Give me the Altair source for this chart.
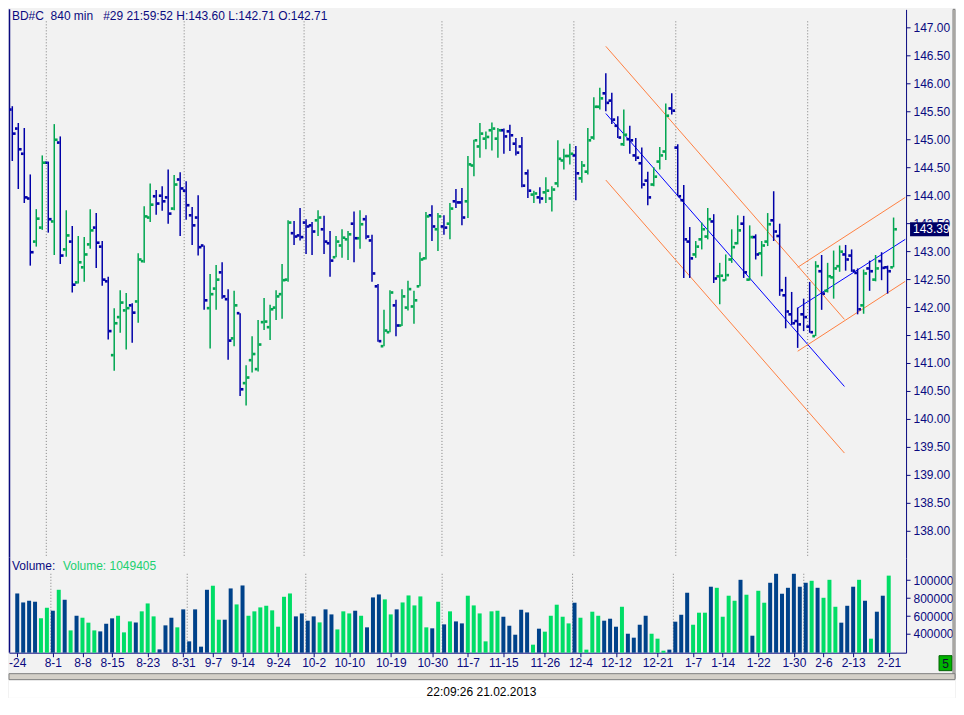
import altair as alt
import pandas as pd

# ---------------- data ----------------
bar_open = [145.53, 145.19, 144.74, 143.94, 143.17, 143.42, 144.58, 143.53, 144.94, 143.03,
            143.17, 142.44, 142.71, 143.12, 143.42, 143.08, 142.46, 141.14, 141.82, 141.94,
            142.03, 142.10, 142.82, 143.60, 143.98, 143.99, 143.96, 143.76, 144.28, 144.08,
            143.64, 143.60, 143.10, 141.98, 142.33, 142.62, 142.14, 141.44, 141.89, 140.64,
            141.05, 140.89, 141.73, 141.64, 141.99, 142.23, 142.49, 143.32, 143.28, 143.51,
            143.46, 143.55, 143.39, 143.14, 142.89, 143.10, 143.21, 143.49, 143.23, 143.57,
            143.19, 142.37, 141.30, 141.55, 142.03, 141.67, 141.99, 142.01, 142.37, 142.87,
            143.64, 143.39, 143.44, 143.49, 143.89, 143.87, 143.89, 144.53, 144.87, 145.01,
            145.16, 145.01, 145.16, 145.14, 144.92, 144.87, 144.39, 144.01, 143.96, 144.05,
            143.94, 144.21, 144.62, 144.70, 144.71, 144.30, 144.42, 145.03, 145.58, 145.82,
            145.69, 145.24, 144.91, 145.00, 144.71, 144.57, 144.26, 144.19, 144.60, 144.78,
            145.55, 144.85, 143.91, 143.17, 142.94, 143.21, 143.26, 143.53, 142.55, 142.48,
            142.85, 143.14, 143.49, 142.49, 143.25, 142.96, 143.17, 143.55, 143.27, 142.21,
            141.87, 141.75, 141.87, 141.65, 141.48, 142.64, 142.29, 142.53, 142.73, 142.94,
            142.92, 142.61, 142.03, 142.69, 142.49, 142.82, 142.71, 142.71]
bar_high = [145.59, 145.29, 145.20, 144.37, 143.75, 144.71, 144.60, 145.27, 145.05, 143.73,
            143.45, 143.27, 143.25, 143.75, 143.68, 143.18, 142.54, 141.98, 142.30, 142.25,
            142.07, 142.96, 143.80, 144.21, 144.09, 144.16, 144.46, 144.36, 144.41, 144.25,
            143.79, 144.00, 143.10, 142.59, 142.75, 142.80, 142.32, 142.29, 141.89, 140.96,
            141.48, 141.77, 142.16, 142.04, 142.30, 142.77, 143.55, 143.54, 143.77, 143.57,
            143.52, 143.73, 143.63, 143.36, 143.27, 143.39, 143.36, 143.71, 143.73, 143.64,
            143.29, 142.41, 141.95, 142.30, 142.13, 142.32, 142.47, 142.29, 142.98, 143.70,
            143.82, 143.68, 143.64, 143.86, 144.11, 144.13, 144.70, 144.99, 145.29, 145.14,
            145.30, 145.20, 145.19, 145.26, 145.02, 145.04, 144.46, 144.08, 144.14, 144.32,
            144.16, 144.98, 144.83, 144.92, 144.88, 144.61, 145.20, 145.75, 145.92, 146.18,
            145.83, 145.41, 145.53, 145.24, 145.02, 144.85, 144.42, 144.50, 144.86, 145.64,
            145.82, 144.91, 144.18, 143.43, 143.18, 143.51, 143.77, 143.66, 142.79, 142.94,
            143.39, 143.64, 143.63, 143.46, 143.30, 143.18, 143.68, 144.07, 143.49, 142.54,
            142.27, 141.99, 142.15, 142.45, 142.82, 142.93, 142.79, 143.01, 143.10, 143.11,
            143.03, 142.69, 142.67, 142.83, 142.93, 142.98, 142.74, 143.60]
bar_low = [144.61, 144.11, 143.86, 142.74, 143.08, 143.38, 143.33, 142.93, 142.77, 142.90,
           142.26, 142.42, 142.45, 143.04, 142.70, 142.38, 141.42, 140.86, 141.54, 141.24,
           141.36, 141.72, 142.79, 143.52, 143.65, 143.72, 143.49, 143.73, 143.27, 143.56,
           143.11, 142.92, 141.95, 141.26, 141.95, 142.15, 141.06, 141.30, 140.41, 140.24,
           140.83, 140.85, 141.59, 141.41, 141.77, 141.79, 142.45, 143.11, 143.19, 142.95,
           142.93, 143.27, 142.95, 142.54, 142.89, 142.88, 142.84, 142.80, 143.04, 143.21,
           142.45, 141.38, 141.30, 141.55, 141.48, 141.66, 141.94, 141.70, 142.37, 142.85,
           143.18, 143.00, 143.29, 143.21, 143.77, 143.46, 143.59, 144.34, 144.67, 144.82,
           144.80, 144.67, 144.74, 144.79, 144.71, 144.14, 143.95, 143.86, 143.85, 143.86,
           143.71, 144.14, 144.46, 144.55, 143.91, 144.22, 144.37, 144.99, 145.53, 145.50,
           145.27, 145.02, 144.88, 144.74, 144.61, 144.12, 143.82, 144.16, 144.46, 144.63,
           145.44, 143.98, 142.52, 142.52, 142.88, 143.03, 143.21, 142.43, 142.05, 142.47,
           142.79, 143.12, 142.52, 142.47, 142.85, 142.55, 143.09, 143.18, 142.20, 141.62,
           141.68, 141.27, 141.57, 141.54, 141.48, 141.95, 142.26, 142.15, 142.63, 142.65,
           142.63, 141.87, 141.88, 142.29, 142.46, 142.48, 142.24, 142.71]
bar_close = [145.10, 144.82, 143.96, 142.98, 143.58, 144.58, 143.57, 144.99, 142.92, 143.28,
             142.40, 142.80, 142.94, 143.37, 143.15, 142.49, 141.57, 141.71, 142.08, 141.98,
             141.90, 142.85, 143.62, 143.83, 143.85, 143.89, 143.67, 144.19, 144.12, 143.82,
             143.46, 143.07, 142.12, 142.23, 142.49, 142.19, 141.40, 142.03, 140.53, 140.74,
             141.16, 141.33, 141.74, 141.96, 142.19, 142.48, 143.51, 143.26, 143.25, 143.44,
             143.35, 143.60, 143.17, 142.83, 143.17, 143.24, 143.30, 143.23, 143.48, 143.26,
             142.60, 141.39, 141.58, 142.26, 141.67, 142.19, 142.32, 142.12, 142.85, 143.62,
             143.44, 143.62, 143.42, 143.76, 143.87, 143.60, 144.55, 144.98, 145.10, 145.04,
             145.19, 145.16, 145.05, 145.07, 144.76, 144.17, 144.08, 144.03, 143.94, 144.08,
             144.10, 144.65, 144.70, 144.74, 144.39, 144.53, 144.98, 145.58, 145.73, 145.65,
             145.35, 145.03, 145.08, 144.98, 144.67, 144.19, 143.96, 144.33, 144.71, 145.42,
             145.51, 143.98, 143.21, 142.87, 143.08, 143.39, 143.57, 142.51, 142.56, 142.57,
             143.07, 143.37, 142.62, 143.25, 142.94, 143.10, 143.48, 143.35, 142.30, 141.92,
             141.71, 141.69, 141.82, 141.55, 142.73, 142.24, 142.55, 142.69, 142.99, 142.85,
             142.65, 141.96, 142.60, 142.64, 142.69, 142.70, 142.64, 143.39]
volume = [851000, 751000, 770000, 759000, 574000, 692000, 659000, 892000, 781000, 440000,
          603000, 581000, 526000, 440000, 429000, 514000, 574000, 603000, 418000, 540000,
          529000, 652000, 740000, 596000, 229000, 496000, 581000, 474000, 674000, 318000,
          674000, 259000, 892000, 937000, 559000, 559000, 907000, 729000, 940000, 603000,
          652000, 696000, 714000, 663000, 481000, 814000, 851000, 596000, 629000, 548000,
          596000, 529000, 674000, 618000, 451000, 652000, 629000, 659000, 603000, 474000,
          807000, 840000, 785000, 618000, 674000, 751000, 829000, 718000, 818000, 474000,
          463000, 759000, 507000, 652000, 540000, 518000, 826000, 718000, 629000, 318000,
          652000, 659000, 592000, 492000, 392000, 670000, 640000, 281000, 459000, 426000,
          603000, 726000, 592000, 518000, 748000, 581000, 226000, 648000, 603000, 548000,
          570000, 481000, 703000, 403000, 359000, 503000, 603000, 403000, 348000, 214000,
          226000, 537000, 614000, 859000, 503000, 637000, 637000, 926000, 914000, 592000,
          826000, 770000, 1003000, 837000, 381000, 881000, 748000, 970000, 1070000, 848000,
          914000, 1070000, 926000, 970000, 992000, 914000, 803000, 1003000, 703000, 526000,
          714000, 926000, 1003000, 770000, 348000, 648000, 826000, 1049405]

tick_index = [0, 6, 11, 16, 22, 28, 33, 38, 44, 50, 56, 63, 70, 76, 82, 89, 95, 101,
              108, 114, 119, 125, 131, 136, 141, 147]
tick_label = ['-24', '8-1', '8-8', '8-15', '8-23', '8-31', '9-7', '9-14', '9-24', '10-2',
              '10-10', '10-19', '10-30', '11-7', '11-15', '11-26', '12-4', '12-12',
              '12-21', '1-7', '1-14', '1-22', '1-30', '2-6', '2-13', '2-21']
month_start = [6, 29, 49, 72, 94, 111, 133]

trend_id = ['dn_mid', 'dn_mid', 'dn_hi', 'dn_hi', 'dn_lo', 'dn_lo',
            'up_mid', 'up_mid', 'up_hi', 'up_hi', 'up_lo', 'up_lo']
trend_kind = ['reg', 'reg', 'chan', 'chan', 'chan', 'chan',
              'reg', 'reg', 'chan', 'chan', 'chan', 'chan']
trend_x = [99, 138.8, 99, 138.8, 99, 138.8, 131, 148.95, 131, 148.95, 131, 148.95]
trend_p = [145.46, 140.58, 146.66, 141.78, 144.27, 139.39,
           141.98, 143.21, 142.71, 143.96, 141.21, 142.46]

header = "BD#C\u00a0\u00a0840 min\u00a0\u00a0\u00a0#29 21:59:52 H:143.60 L:142.71 O:142.71"
stamp = "22:09:26 21.02.2013"

# ---------------- styling ----------------
FONT = "Liberation Sans"
NAVY = "#0A0A80"
UP = "#00A651"
DOWN = "#0000A8"
VUP = "#00DD66"
VDOWN = "#00428A"
W, HP, HV = 898, 549, 95

df = pd.DataFrame({"i": list(range(len(bar_open))), "o": bar_open, "h": bar_high,
                   "l": bar_low, "c": bar_close, "v": volume})
months = pd.DataFrame({"m": month_start})
trend = pd.DataFrame({"id": trend_id, "kind": trend_kind, "x": trend_x, "p": trend_p})
one = pd.DataFrame({"k": [0]})

XS = alt.Scale(domain=[-0.55, 149.08], nice=False, zero=False)
YS = alt.Scale(domain=[137.518, 147.321], nice=False, zero=False)
VMIN = 192000
VS = alt.Scale(domain=[VMIN, 1248000], nice=False, zero=False)

yaxis = alt.Axis(orient="right", values=[138 + 0.5 * k for k in range(19)], format=".2f",
                 title=None, tickSize=4, labelPadding=3, grid=False, domainColor=NAVY,
                 tickColor=NAVY, labelColor=NAVY, labelFont=FONT, labelFontSize=12)
vaxis = alt.Axis(orient="right", values=[400000, 600000, 800000, 1000000],
                 labelExpr="datum.value >= 1000000 ? '100000' : format(datum.value, 'd')",
                 title=None, tickSize=4, labelPadding=3, grid=False, domainColor=NAVY,
                 tickColor=NAVY, labelColor=NAVY, labelFont=FONT, labelFontSize=12)
lab_arr = "[" + ",".join("'%s'" % s for s in tick_label) + "]"
idx_arr = "[" + ",".join(str(v) for v in tick_index) + "]"
xaxis = alt.Axis(orient="bottom", values=tick_index,
                 labelExpr=lab_arr + "[indexof(" + idx_arr + ", datum.value)]",
                 title=None, tickSize=4, labelPadding=1, grid=False, domainColor=NAVY,
                 tickColor=NAVY, labelColor=NAVY, labelFont=FONT, labelFontSize=12,
                 labelFlush=4, labelOverlap=False)

updown = alt.condition("datum.c >= datum.o", alt.value(UP), alt.value(DOWN))
vupdown = alt.condition("datum.c >= datum.o", alt.value(VUP), alt.value(VDOWN))

# ---------------- price pane ----------------
p_months = alt.Chart(months).transform_calculate(xm="datum.m - 0.33").mark_rule(
    color="#808080", strokeWidth=1, strokeDash=[1, 2]).encode(
    x=alt.X("xm:Q", scale=XS, axis=None), y=alt.value(12), y2=alt.value(HP))
p_left = alt.Chart(one).mark_rule(color=NAVY, strokeWidth=1.5).encode(
    x=alt.value(0.5), y=alt.value(0), y2=alt.value(HP))
p_trend = alt.Chart(trend).mark_line(strokeWidth=1).encode(
    x=alt.X("x:Q", scale=XS, axis=None),
    y=alt.Y("p:Q", scale=YS, axis=yaxis),
    detail="id:N",
    color=alt.Color("kind:N", scale=alt.Scale(domain=["reg", "chan"],
                                              range=["#0000FF", "#FF7F40"]), legend=None))
p_hl = alt.Chart(df).mark_rule(strokeWidth=1.5).encode(
    x=alt.X("i:Q", scale=XS, axis=None),
    y=alt.Y("l:Q", scale=YS, axis=yaxis), y2="h:Q", color=updown)
p_open = alt.Chart(df).mark_square(size=7, opacity=1, xOffset=-2).encode(
    x=alt.X("i:Q", scale=XS, axis=None),
    y=alt.Y("o:Q", scale=YS, axis=yaxis), color=updown)
p_close = alt.Chart(df).mark_square(size=7, opacity=1, xOffset=2).encode(
    x=alt.X("i:Q", scale=XS, axis=None),
    y=alt.Y("c:Q", scale=YS, axis=yaxis), color=updown)
p_header = alt.Chart(one).mark_text(text=header, align="left", baseline="middle",
                                    font=FONT, fontSize=12, color=NAVY).encode(
    x=alt.value(3), y=alt.value(7))
last = alt.Chart(df).transform_filter("datum.i == 147")
p_box = last.mark_rect(color="#000066", yOffset=-7, y2Offset=7).encode(
    x=alt.value(W + 4), x2=alt.value(W + 43),
    y=alt.Y("c:Q", scale=YS, axis=yaxis), y2="c:Q")
p_boxtxt = last.mark_text(align="left", baseline="middle", font=FONT, fontSize=12,
                          color="white").encode(
    x=alt.value(W + 7), y=alt.Y("c:Q", scale=YS, axis=yaxis),
    text=alt.Text("c:Q", format=".2f"))

price = alt.layer(p_months, p_left, p_trend, p_hl, p_open, p_close, p_header,
                  p_box, p_boxtxt).properties(width=W, height=HP)

# ---------------- volume pane ----------------
v_months = alt.Chart(months).transform_calculate(xm="datum.m - 0.33").mark_rule(
    color="#808080", strokeWidth=1, strokeDash=[1, 2]).encode(
    x=alt.X("xm:Q", scale=XS, axis=xaxis), y=alt.value(16), y2=alt.value(HV))
v_left = alt.Chart(one).mark_rule(color=NAVY, strokeWidth=1.5).encode(
    x=alt.value(0.5), y=alt.value(0), y2=alt.value(HV))
v_bars = alt.Chart(df).mark_bar(width=4).encode(
    x=alt.X("i:Q", scale=XS, axis=xaxis),
    y=alt.Y("v:Q", scale=VS, axis=vaxis), y2=alt.datum(VMIN), color=vupdown)
v_lab1 = alt.Chart(one).mark_text(text="Volume:", align="left", baseline="middle",
                                  font=FONT, fontSize=12, color=NAVY).encode(
    x=alt.value(3), y=alt.value(8))
v_lab2 = last.transform_calculate(lbl="'Volume: ' + datum.v").mark_text(
    align="left", baseline="middle", font=FONT, fontSize=12, color="#20D070").encode(
    x=alt.value(54), y=alt.value(8), text="lbl:N")
v_five = alt.Chart(one).mark_rect(color="#00B400", stroke="#006000", strokeWidth=1).encode(
    x=alt.value(W + 33), x2=alt.value(W + 46), y=alt.value(HV + 3), y2=alt.value(HV + 18))
v_fivetxt = alt.Chart(one).mark_text(text="5", align="center", baseline="middle",
                                     font=FONT, fontSize=12, color="#101030").encode(
    x=alt.value(W + 39.5), y=alt.value(HV + 11))
v_chrome_r = alt.Chart(one).mark_rect(color="#D4D0C8", stroke="#808080", strokeWidth=1).encode(
    x=alt.value(W + 47), x2=alt.value(W + 49), y=alt.value(-HP), y2=alt.value(HV + 26))
v_chrome_b = alt.Chart(one).mark_rect(color="#D4D0C8", stroke="#808080", strokeWidth=1).encode(
    x=alt.value(0), x2=alt.value(W + 49), y=alt.value(HV + 21), y2=alt.value(HV + 27))
v_white = alt.Chart(one).mark_rect(color="white").encode(
    x=alt.value(0), x2=alt.value(W + 49), y=alt.value(HV + 28), y2=alt.value(HV + 45))
v_stamp = alt.Chart(one).mark_text(text=stamp, align="center", baseline="middle",
                                   font=FONT, fontSize=12, color="black").encode(
    x=alt.value(473), y=alt.value(HV + 39))

vol = alt.layer(v_months, v_left, v_bars, v_lab1, v_lab2, v_five, v_fivetxt,
                v_chrome_r, v_chrome_b, v_white, v_stamp).properties(width=W, height=HV)

chart = alt.vconcat(price, vol, spacing=0, bounds="flush").properties(
    padding=0, background="#F2F2F2"
).configure_view(stroke=None)

chart.save("out.html", embed_options={"renderer": "svg", "actions": False})
